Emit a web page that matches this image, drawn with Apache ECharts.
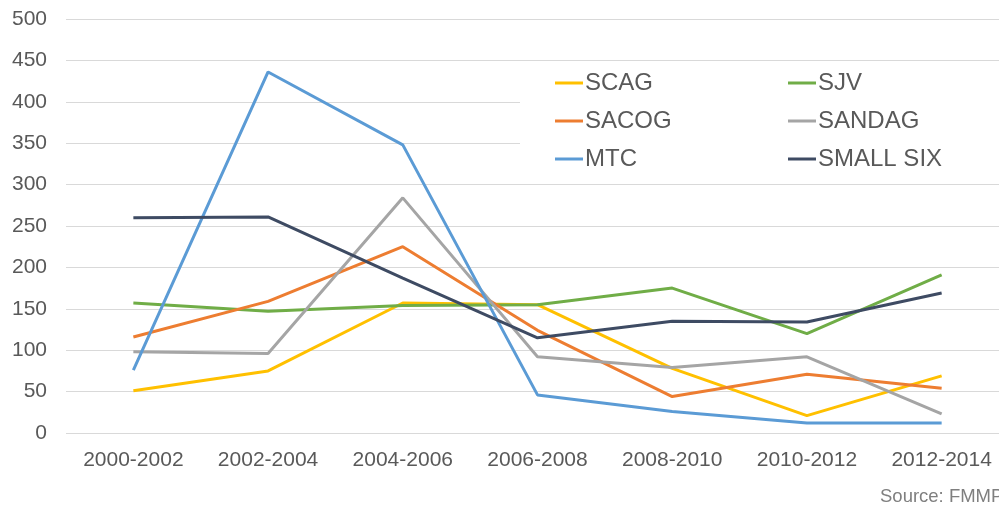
<!DOCTYPE html>
<html>
<head>
<meta charset="utf-8">
<script src="https://cdn.jsdelivr.net/npm/echarts@6/dist/echarts.min.js"></script>
<style>
html,body{margin:0;padding:0;background:#fff;}
#chart{width:999px;height:508px;}
</style>
</head>
<body>
<div id="chart"></div>
<script>
const categories = ['2000-2002','2002-2004','2004-2006','2006-2008','2008-2010','2010-2012','2012-2014'];
const yTicks = [0,50,100,150,200,250,300,350,400,450,500];
const scag = [51, 75, 157, 155, 78, 21, 69];
const sjv = [157, 147, 154, 155, 175, 120, 191];
const sacog = [116, 159, 225, 124, 44, 71, 54];
const sandag = [98, 96, 284, 92, 79, 92, 23];
const mtc = [76, 436, 348, 46, 26, 12, 12];
const smallSix = [260, 261, 187, 115, 135, 134, 169];
const seriesNames = ['SCAG','SJV','SACOG','SANDAG','MTC','SMALL SIX'];
const sourceText = 'Source: FMMP';

const colors = {
  'SCAG':'#FFC000','SJV':'#70AD47','SACOG':'#ED7D31',
  'SANDAG':'#A5A5A5','MTC':'#5B9BD5','SMALL SIX':'#3E4B63'
};
const dataMap = {'SCAG':scag,'SJV':sjv,'SACOG':sacog,'SANDAG':sandag,'MTC':mtc,'SMALL SIX':smallSix};
const FONT = '"Liberation Sans", Arial, sans-serif';

const chart = echarts.init(document.getElementById('chart'), null, {renderer:'canvas'});
const legendCommon = {
  orient:'vertical', top:64, padding:0, itemGap:0,
  itemWidth:28, itemHeight:3, icon:'rect', z:10,
  textStyle:{fontFamily:FONT, fontSize:24, color:'#595959', lineHeight:38, padding:[0,0,0,-3]}
};
chart.setOption({
  animation:false,
  backgroundColor:'#fff',
  grid:{left:66, width:943, top:19, height:414, containLabel:false, outerBoundsMode:'none'},
  xAxis:{
    type:'category', data:categories, boundaryGap:true,
    axisLine:{show:false}, axisTick:{show:false},
    axisLabel:{fontFamily:FONT, fontSize:21, color:'#595959', margin:17, interval:0, hideOverlap:false}
  },
  yAxis:{
    type:'value', min:yTicks[0], max:yTicks[yTicks.length-1], interval:50,
    axisLine:{show:false}, axisTick:{show:false},
    axisLabel:{fontFamily:FONT, fontSize:21, color:'#595959', margin:19},
    splitLine:{lineStyle:{color:'#D9D9D9', width:1}}
  },
  legend:[
    Object.assign({}, legendCommon, {left:555, data:['SCAG','SACOG','MTC']}),
    Object.assign({}, legendCommon, {left:788, data:['SJV','SANDAG','SMALL SIX']})
  ],
  graphic:[
    {type:'rect', left:520, top:63, z:1, shape:{width:490, height:120}, style:{fill:'#fff'}},
    {type:'text', left:880, top:487, z:10, style:{text:sourceText, font:'18.5px "Liberation Sans", Arial, sans-serif', fill:'#7F7F7F'}}
  ],
  series: seriesNames.map(n => ({
    name:n, type:'line', data:dataMap[n], symbol:'none', z:3,
    lineStyle:{color:colors[n], width:3}, itemStyle:{color:colors[n]}
  }))
});
</script>
</body>
</html>
